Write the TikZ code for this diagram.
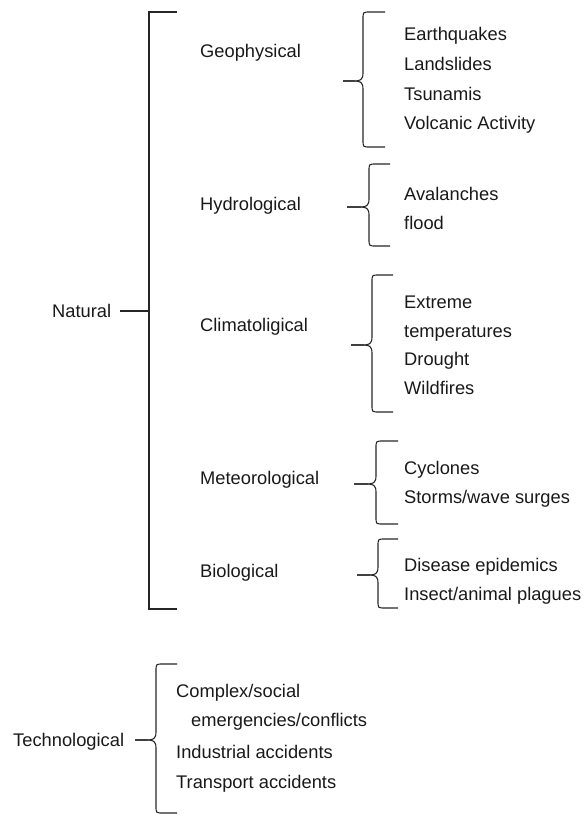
\documentclass[tikz,border=0pt]{standalone}
\usepackage{fontspec}
\setmainfont{Liberation Sans}
% curly brace: #1 name of tip, #2 tip x, #3 tip y, #4 spine x, #5 top y, #6 bottom y, #7 end x
\newcommand\drawbrace[7]{%
  \coordinate (#1) at (#2,#3);
  \draw[rule] (#7,#5) -- ({#4+7},#5) .. controls (#4,#5) .. (#4,{#5+7})
     -- (#4,{#3-8}) .. controls (#4,{#3-1}) and ({#4-3},#3) .. ({#4-9},#3) -- (#1);
  \draw[rule] (#1) -- ({#4-9},#3) .. controls ({#4-3},#3) and (#4,{#3+1}) .. (#4,{#3+8})
     -- (#4,{#6-7}) .. controls (#4,#6) .. ({#4+7},#6) -- (#7,#6);
}
\begin{document}
\begin{tikzpicture}[x=1pt,y=-1pt,
  lbl/.style={anchor=base west, inner sep=0pt, text=black!90,
              font=\fontsize{18.3}{22}\selectfont},
  rule/.style={line width=1.1pt, draw=black!85}]
\useasboundingbox (0,0) rectangle (586,815);

% ---- Natural hazards ----
\node[lbl] (nat) at (52,317.5) {Natural};
\coordinate (nt) at (120,311);
\coordinate (bt) at (177,12);
\coordinate (bb) at (177,609);
\coordinate (bm) at (149,311);
\draw[rule] (bt) -- (149,12) -- (149,609) -- (bb);
\draw[rule] (nt) -- (bm);

\node[lbl] (geo) at (200,57.5) {Geophysical};
\node[lbl] (hyd) at (200,210.5) {Hydrological};
\node[lbl] (cli) at (200,331.5) {Climatoligical};
\node[lbl] (met) at (200,484.5) {Meteorological};
\node[lbl] (bio) at (200,577.5) {Biological};

% sub-category braces
\drawbrace{geoB}{343}{81}{363}{12}{147}{385}
\drawbrace{hydB}{347}{207}{369}{164}{246}{390}
\drawbrace{cliB}{351}{345}{372}{275}{412}{393}
\drawbrace{metB}{354}{484}{376}{441}{524}{398}
\drawbrace{bioB}{357}{575}{378}{539}{608}{398}

% geophysical
\node[lbl] (g1) at (404,40.5) {Earthquakes};
\node[lbl] (g2) at (404,70.5) {Landslides};
\node[lbl] (g3) at (404,100.5) {Tsunamis};
\node[lbl] (g4) at (404,129.5) {Volcanic Activity};
% hydrological
\node[lbl] (h1) at (404,200.5) {Avalanches};
\node[lbl] (h2) at (404,229.5) {flood};
% climatological
\node[lbl] (c1) at (404,308.5) {Extreme};
\node[lbl] (c2) at (404,337.5) {temperatures};
\node[lbl] (c3) at (404,365.5) {Drought};
\node[lbl] (c4) at (404,394.5) {Wildfires};
% meteorological
\node[lbl] (m1) at (404,474.5) {Cyclones};
\node[lbl] (m2) at (404,503.5) {Storms/wave surges};
% biological
\node[lbl] (b1) at (404,571.5) {Disease epidemics};
\node[lbl] (b2) at (404,600.5) {Insect/animal plagues};

% ---- Technological hazards ----
\node[lbl] (tec) at (13,746.5) {Technological};
\drawbrace{tecB}{135}{740}{156}{664}{813}{177}
\node[lbl] (t1) at (176,697.5) {Complex/social};
\node[lbl] (t2) at (191,726.5) {emergencies/conflicts};
\node[lbl] (t3) at (176,758.5) {Industrial accidents};
\node[lbl] (t4) at (176,788.5) {Transport accidents};
\end{tikzpicture}
\end{document}
